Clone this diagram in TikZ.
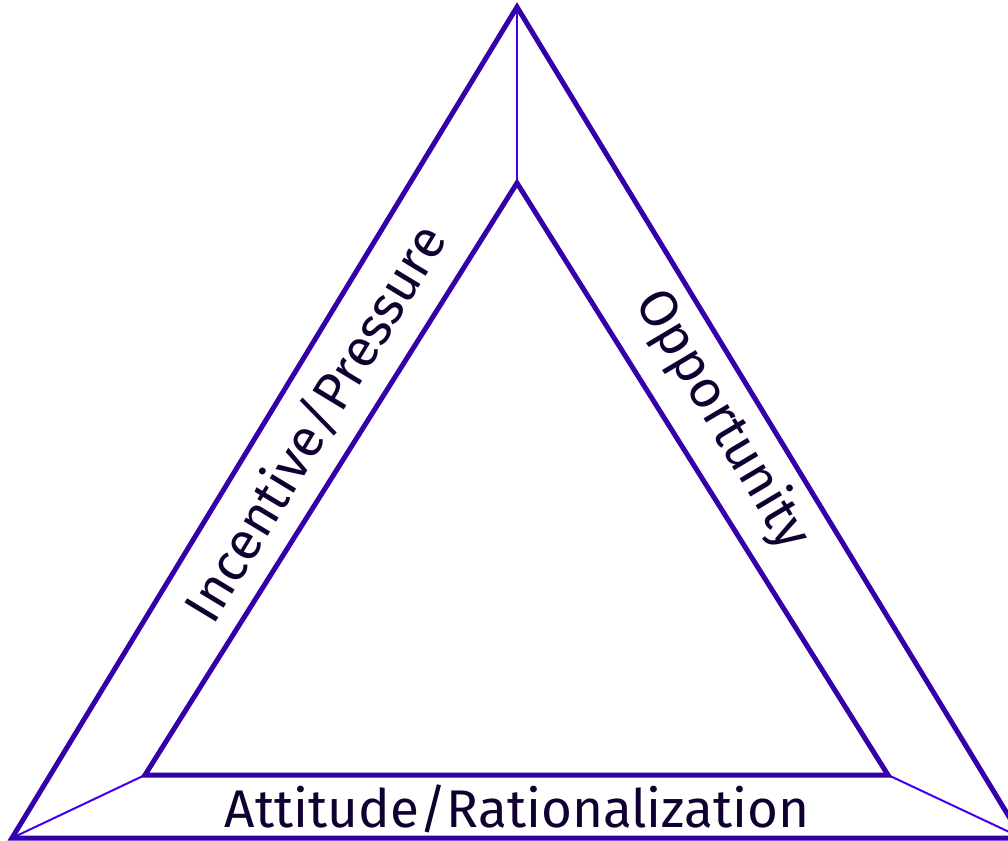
\documentclass[tikz,border=0pt]{standalone}
\usepackage{fontspec}
\setmainfont{Fira Sans}
\definecolor{edge}{HTML}{3300AA}
\definecolor{thin}{HTML}{4400EE}
\definecolor{txt}{HTML}{100030}
\begin{document}
\begin{tikzpicture}[x=1pt,y=-1pt,
  thickedge/.style={draw=edge,line width=5pt,line join=miter},
  thinedge/.style={draw=thin,line width=2pt},
  lbl/.style={text=txt,font=\fontsize{53}{58}\selectfont,inner sep=0pt}]
\useasboundingbox (0,0) rectangle (1008,840);
\clip (0,0) rectangle (1008,840);
\coordinate (OT) at (517,7);
\coordinate (OL) at (12,838);
\coordinate (OR) at (1022,838);
\coordinate (IT) at (517,183);
\coordinate (IL) at (145,775);
\coordinate (IR) at (888,775);
\draw[thinedge] (OT) -- (IT);
\draw[thinedge] (OL) -- (IL);
\draw[thinedge] (OR) -- (IR);
\draw[thickedge] (OT) -- (OL) -- (OR) -- cycle;
\draw[thickedge] (IT) -- (IL) -- (IR) -- cycle;
\node[lbl,rotate=58.8] (inc) at (315,423) {Incentive/Pressure};
\node[lbl,rotate=-59.2] (opp) at (722,420) {Opportunity};
\node[lbl] (att) at (517,809) {Attitude/Rationalization};
\end{tikzpicture}
\end{document}
